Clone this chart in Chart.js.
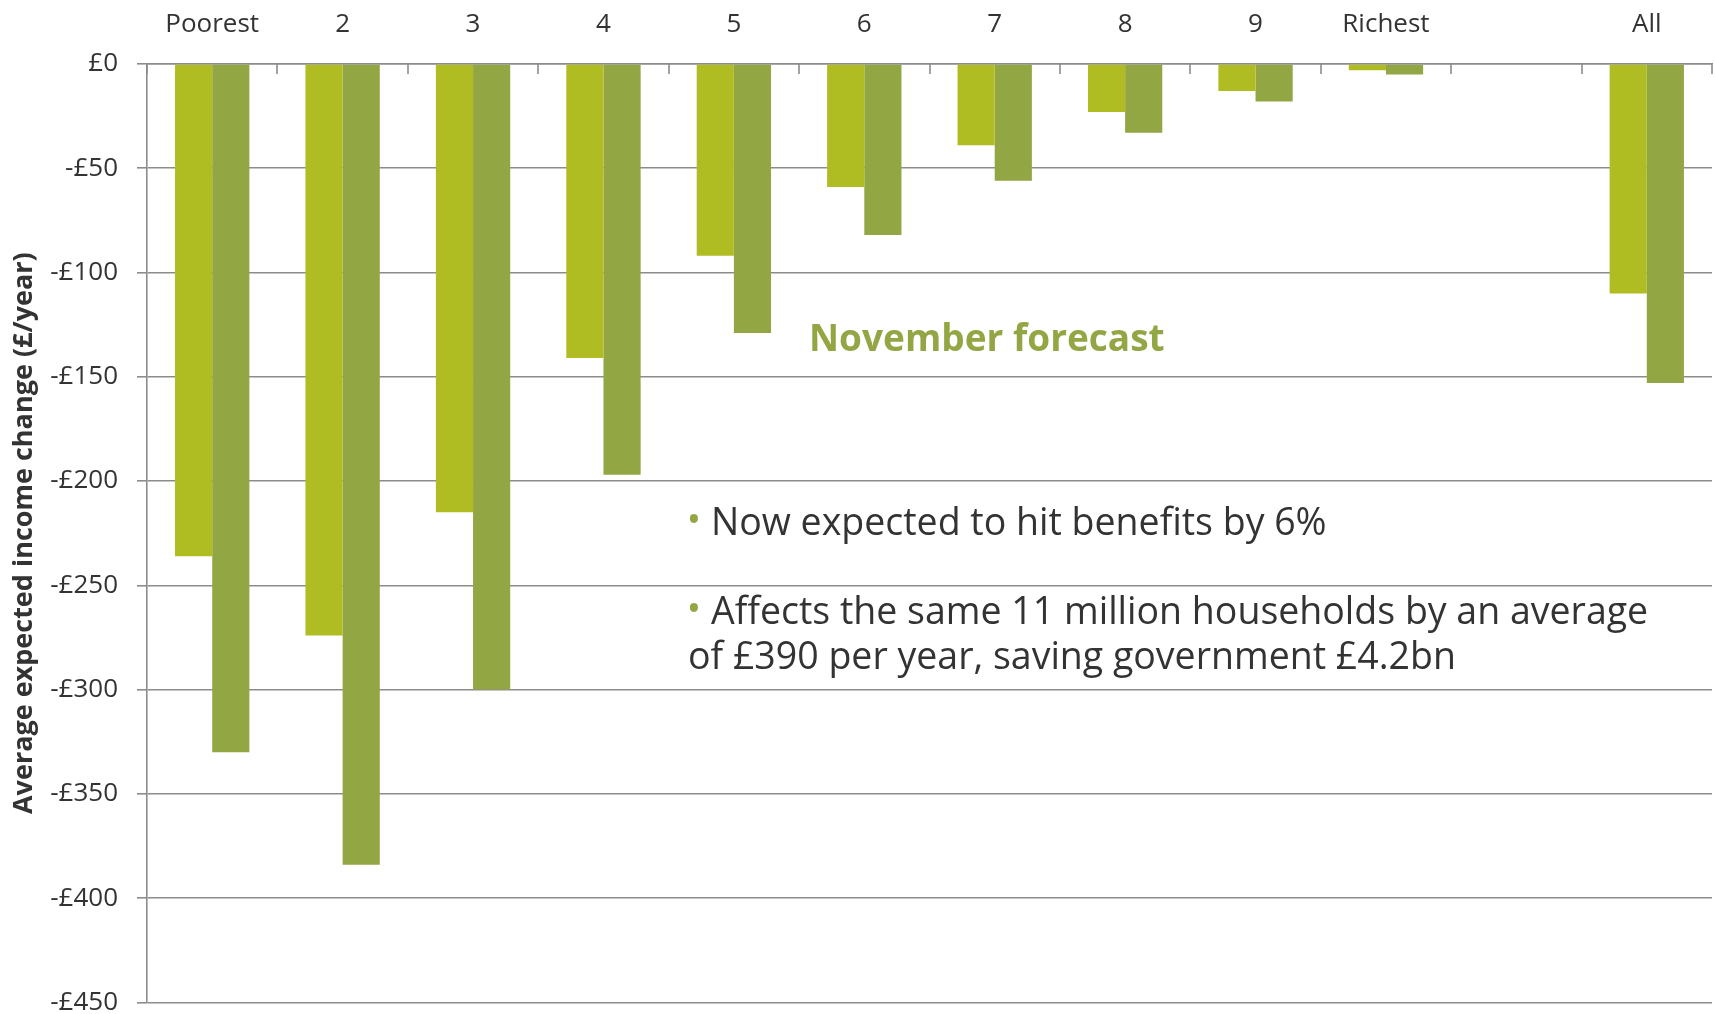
<!DOCTYPE html>
<html>
<head>
<meta charset="utf-8">
<script src="https://cdn.jsdelivr.net/npm/chart.js@4.4.0/dist/chart.umd.min.js"></script>
<style>
  html, body { margin: 0; padding: 0; background: #fff; overflow: hidden; }
  canvas { display: block; }
</style>
</head>
<body>
<!-- el lienzo es algo mas alto que la ventana: el margen inferior que deja Chart.js queda fuera -->
<canvas id="grafico" width="1715" height="1037"></canvas>
<script>
// datos
const categorias = ['Poorest', '2', '3', '4', '5', '6', '7', '8', '9', 'Richest', '', 'All'];
const serieA = [-236, -274, -215, -141, -92, -59, -39, -23, -13, -3, null, -110];
const serieB = [-330, -384, -300, -197, -129, -82, -56, -33, -18, -5, null, -153];
const ticksY = [0, -50, -100, -150, -200, -250, -300, -350, -400, -450];

const colorA = '#afbd22';
const colorB = '#93a644';
const gris = '#8c8c8c';
const texto = '#333333';

// marcas del eje x hacia abajo, en los bordes de cada categoria
const marcasX = {
    id: 'marcasX',
    afterDraw(chart) {
        const x = chart.scales.x;
        const ctx = chart.ctx;
        const n = categorias.length;
        ctx.save();
        ctx.strokeStyle = gris;
        ctx.lineWidth = 1.6;
        for (let i = 0; i <= n; i++) {
            const px = Math.round(x.left + i * x.width / n);
            ctx.beginPath();
            ctx.moveTo(px, x.bottom);
            ctx.lineTo(px, x.bottom + 10);
            ctx.stroke();
        }
        ctx.restore();
    }
};

// textos de la anotacion
const anotaciones = {
    id: 'anotaciones',
    afterDraw(chart) {
        const ctx = chart.ctx;
        ctx.save();
        ctx.textBaseline = 'middle';

        ctx.textAlign = 'center';
        ctx.font = '38px "Open Sans"';
        ctx.fillStyle = colorB;
        ctx.fillText('•', 694, 522);
        ctx.fillText('•', 694, 611);

        ctx.textAlign = 'left';
        ctx.fillStyle = colorB;
        ctx.font = 'bold 37px "Open Sans"';
        ctx.fillText('November forecast', 809, 340);

        ctx.fillStyle = texto;
        ctx.font = '37.5px "Open Sans"';
        ctx.fillText('Now expected to hit benefits by 6%', 711, 524);
        ctx.fillText('Affects the same 11 million households by an average', 711, 613);
        ctx.fillText('of £390 per year, saving government £4.2bn', 688, 658);
        ctx.restore();
    }
};

const ctx = document.getElementById('grafico').getContext('2d');
const myChart = new Chart(ctx, {
    type: 'bar',
    data: {
        labels: categorias,
        datasets: [{
            label: 'A',
            data: serieA,
            backgroundColor: colorA,
            borderWidth: 0
        }, {
            label: 'B',
            data: serieB,
            backgroundColor: colorB,
            borderWidth: 0
        }]
    },
    plugins: [marcasX, anotaciones],
    options: {
        responsive: false,
        animation: false,
        devicePixelRatio: 1,
        layout: { padding: { left: 0, right: 3, top: 0, bottom: 12 } },
        categoryPercentage: 0.57,
        barPercentage: 1.0,
        plugins: {
            legend: { display: false },
            tooltip: { enabled: false }
        },
        scales: {
            x: {
                position: 'top',
                grid: { display: false, drawTicks: false },
                border: { display: true, color: gris, width: 1.6 },
                ticks: {
                    color: texto,
                    font: { family: 'Open Sans', size: 26 },
                    padding: 24,
                    maxRotation: 0,
                    autoSkip: false
                },
                afterFit: s => { s.height = 64; }
            },
            y: {
                min: -450,
                max: 0,
                afterBuildTicks: s => { s.ticks = ticksY.map(v => ({ value: v })); },
                grid: { color: gris, lineWidth: 1.6, tickLength: 10 },
                border: { display: true, color: gris, width: 1.6 },
                ticks: {
                    color: texto,
                    font: { family: 'Open Sans', size: 26 },
                    padding: 19,
                    callback: v => v === 0 ? '£0' : '-£' + Math.abs(v)
                },
                title: {
                    display: true,
                    text: 'Average expected income change (£/year)',
                    color: texto,
                    font: { family: 'Open Sans', size: 27, weight: 'bold' },
                    padding: { top: 8, bottom: 0 }
                },
                afterFit: s => { s.width = 147; }
            }
        }
    }
});
</script>
</body>
</html>
